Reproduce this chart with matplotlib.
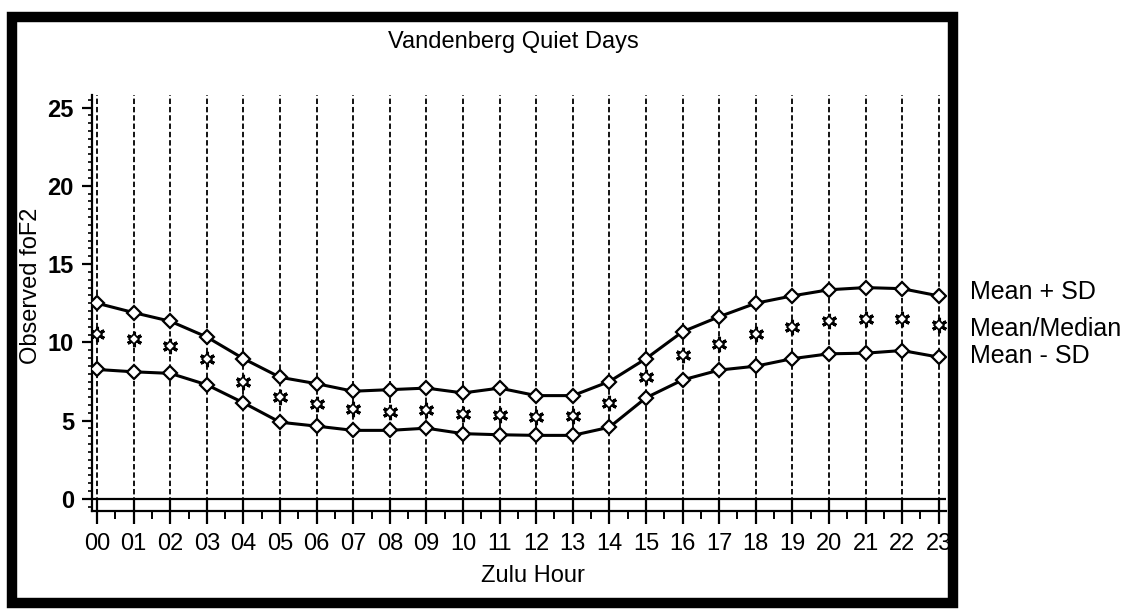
import matplotlib
matplotlib.use("Agg")
import matplotlib.pyplot as plt
from matplotlib.patches import Rectangle
from matplotlib.ticker import MultipleLocator

plt.rcParams['font.family'] = ['Liberation Sans', 'DejaVu Sans']

# ---- data ----
hours = list(range(24))
hour_labels = [f"{h:02d}" for h in hours]
mean_plus_sd = [12.5, 11.9, 11.35, 10.34, 8.96, 7.77, 7.36, 6.88, 6.98, 7.08, 6.77, 7.08,
                6.6, 6.6, 7.5, 8.96, 10.68, 11.64, 12.5, 12.97, 13.36, 13.5, 13.43, 12.97]
mean_median = [10.56, 10.22, 9.79, 8.96, 7.5, 6.52, 6.04, 5.73, 5.56, 5.69, 5.42, 5.35,
               5.21, 5.31, 6.1, 7.77, 9.17, 9.9, 10.56, 11.0, 11.35, 11.47, 11.47, 11.13]
mean_minus_sd = [8.27, 8.12, 8.02, 7.29, 6.14, 4.9, 4.65, 4.38, 4.38, 4.52, 4.17, 4.1,
                 4.06, 4.06, 4.58, 6.46, 7.6, 8.23, 8.48, 8.96, 9.27, 9.31, 9.48, 9.06]
y_ticks = [0, 5, 10, 15, 20, 25]
series_labels = ["Mean + SD", "Mean/Median", "Mean - SD"]

W, H = 1121, 609
fig = plt.figure(figsize=(W / 100, H / 100), dpi=100)
fig.patch.set_facecolor('white')

ax_l, ax_r, ax_b, ax_t = 92, 946, 511, 95
ax = fig.add_axes([ax_l / W, 1 - ax_b / H, (ax_r - ax_l) / W, (ax_b - ax_t) / H])
ax.set_xlim(-0.14, 23.2)
ax.set_ylim(-0.77, 25.8)

# dashed vertical lines at each hour
ax.vlines(hours, -0.77, 25.8, colors='black', linestyles=(0, (3, 1.6)), linewidth=1.3, zorder=1)
# zero line
ax.axhline(0, color='black', linewidth=1.6, zorder=2)

# series
ax.plot(hours, mean_plus_sd, color='black', linewidth=2.2, marker='D', markersize=7,
        markerfacecolor='white', markeredgecolor='black', markeredgewidth=1.6, zorder=4)
ax.plot(hours, mean_minus_sd, color='black', linewidth=2.2, marker='D', markersize=7,
        markerfacecolor='white', markeredgecolor='black', markeredgewidth=1.6, zorder=4)
ax.plot(hours, mean_median, linestyle='none', marker=(6, 2, 0), markersize=11,
        markeredgecolor='black', markeredgewidth=2.2, zorder=5)
ax.plot(hours, mean_median, linestyle='none', marker='D', markersize=5,
        markerfacecolor='white', markeredgecolor='black', markeredgewidth=1.2, zorder=6)

# spines
for s in ['top', 'right']:
    ax.spines[s].set_visible(False)
ax.spines['left'].set_linewidth(1.6)
ax.spines['bottom'].set_linewidth(1.6)

# ticks
ax.set_xticks(hours)
ax.set_xticklabels(hour_labels)
ax.xaxis.set_minor_locator(MultipleLocator(0.5))
ax.tick_params(axis='x', which='major', direction='inout', length=18, width=1.6, pad=7,
               labelsize=17)
ax.tick_params(axis='x', which='minor', direction='out', length=6, width=1.4)
ax.set_yticks(y_ticks)
ax.yaxis.set_minor_locator(MultipleLocator(0.5))
ax.tick_params(axis='y', which='major', direction='out', length=7, width=1.6, pad=6,
               labelsize=17)
ax.tick_params(axis='y', which='minor', direction='out', length=3, width=1.2)
for lab in ax.get_yticklabels():
    lab.set_fontweight('bold')

# labels
ax.set_title("Vandenberg Quiet Days", fontsize=17, pad=34, x=0.493)
ax.set_xlabel("Zulu Hour", fontsize=17)
ax.xaxis.set_label_coords(0.516, -0.13)
ax.set_ylabel("Observed foF2", fontsize=17)
ax.yaxis.set_label_coords(-0.0585, 0.542)

# right-side series labels
fig.text(970 / W, 1 - 292 / H, series_labels[0], fontsize=18, va='center', ha='left')
fig.text(970 / W, 1 - 329 / H, series_labels[1], fontsize=18, va='center', ha='left')
fig.text(970 / W, 1 - 356 / H, series_labels[2], fontsize=18, va='center', ha='left')

# thick outer frame
fig.patches.append(Rectangle((12 / W, 1 - 603 / H), (953 - 12) / W, (603 - 17) / H,
                             fill=False, linewidth=7.5, edgecolor='black',
                             transform=fig.transFigure, zorder=0))

fig.savefig("out.png", dpi=100)
